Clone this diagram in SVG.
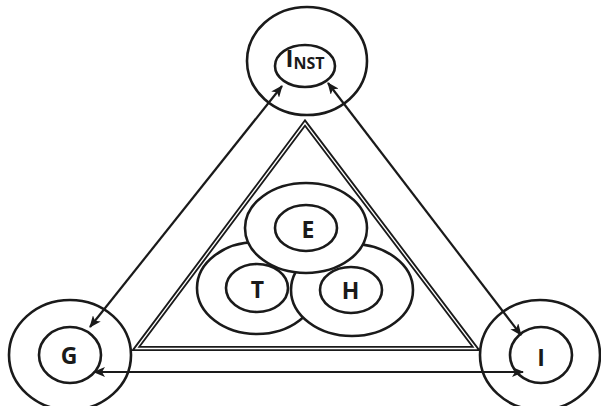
<svg xmlns="http://www.w3.org/2000/svg" width="601" height="406" viewBox="0 0 601 406">
<defs>
<style>
.o{fill:none;stroke:#1a1a1a;stroke-width:2.6}
.f{fill:#fff;stroke:#1a1a1a;stroke-width:2.6}
.t{font-family:"Open Sans","DejaVu Sans",sans-serif;font-weight:700;font-size:23px;fill:#1a1a1a;text-anchor:middle}
.a{fill:none;stroke:#1a1a1a;stroke-width:2.2;marker-start:url(#ah);marker-end:url(#ah)}
</style>
<marker id="ah" viewBox="0 0 12 10" refX="11" refY="5" markerWidth="12" markerHeight="10" markerUnits="userSpaceOnUse" orient="auto-start-reverse">
<path d="M0,0 L12,5 L0,10 L3,5 Z" fill="#1a1a1a"/>
</marker>
</defs>
<rect width="601" height="406" fill="#fff"/>
<g id="triangle">
<polygon points="305,123 136,348.5 476,348.5" fill="none" stroke="#1a1a1a" stroke-width="5" stroke-linejoin="miter" stroke-miterlimit="10"/>
<polygon points="305,123 136,348.5 476,348.5" fill="none" stroke="#fff" stroke-width="1.3" stroke-linejoin="miter" stroke-miterlimit="10"/>
</g>
<g id="inst">
<ellipse class="o" cx="307" cy="61" rx="60" ry="54"/>
<ellipse class="o" cx="305" cy="66" rx="30" ry="21"/>
<text class="t" x="305" y="67"><tspan font-size="24">I</tspan><tspan font-size="16" dy="2">NST</tspan></text>
</g>
<g id="g">
<ellipse class="o" cx="70" cy="355" rx="61" ry="55"/>
<ellipse class="o" cx="70" cy="355" rx="31" ry="28"/>
<text class="t" x="69" y="364">G</text>
</g>
<g id="i">
<ellipse class="o" cx="540" cy="355" rx="60" ry="55"/>
<ellipse class="o" cx="541" cy="355" rx="31" ry="28"/>
<text class="t" x="541" y="366">I</text>
</g>
<g id="t">
<ellipse class="f" cx="257" cy="288" rx="60" ry="46"/>
<ellipse class="o" cx="257" cy="288" rx="31" ry="24"/>
<text class="t" x="257.5" y="298">T</text>
</g>
<g id="h">
<ellipse class="f" cx="352" cy="290" rx="61" ry="46"/>
<ellipse class="o" cx="351" cy="290" rx="31" ry="23"/>
<text class="t" x="350.5" y="299">H</text>
</g>
<g id="e">
<ellipse class="f" cx="306" cy="228" rx="61" ry="45"/>
<ellipse class="o" cx="306" cy="228" rx="31" ry="23"/>
<text class="t" x="308" y="238">E</text>
</g>
<g id="connectors">
<line class="a" x1="90" y1="327" x2="282" y2="86"/>
<line class="a" x1="328" y1="83" x2="521" y2="335"/>
<line class="a" x1="94" y1="372" x2="523" y2="372"/>
</g>
</svg>
